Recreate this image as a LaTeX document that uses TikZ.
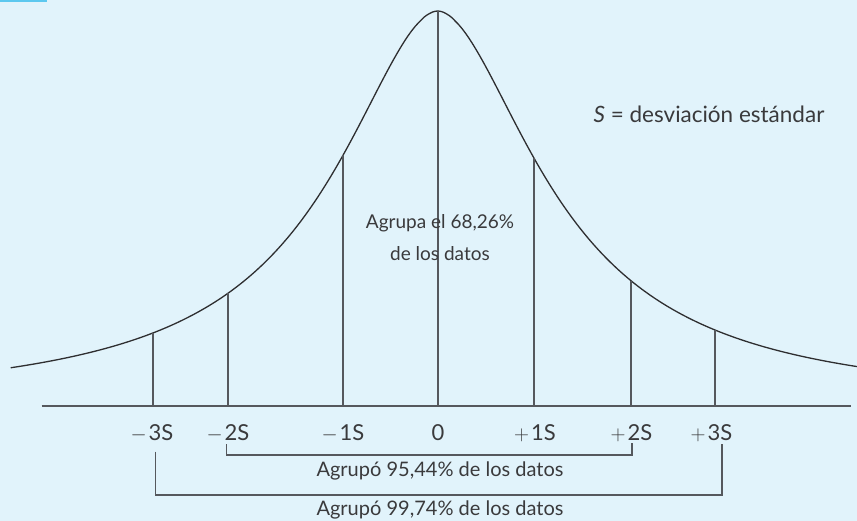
\documentclass[tikz,border=0pt]{standalone}
\usepackage{fontspec}
\setmainfont{Lato}
\definecolor{bgc}{HTML}{E1F3FB}
\definecolor{inkc}{HTML}{2E2E30}
\definecolor{vcol}{HTML}{55585D}
\definecolor{txtc}{HTML}{3A3A3C}
\definecolor{barc}{HTML}{5CC8EF}
\newcommand{\sgnm}{$-$\kern2pt}
\newcommand{\sgnp}{$+$\kern2pt}
\tikzset{
  curveline/.style={draw=inkc, line width=1.3pt},
  axisline/.style={draw=vcol, line width=1.4pt},
  vline/.style={draw=vcol, line width=1.7pt},
  brk/.style={draw=vcol, line width=1.3pt},
  lbl/.style={text=txtc, font=\fontsize{22}{26}\selectfont, inner sep=0pt},
  txt/.style={text=txtc, font=\fontsize{20}{32}\selectfont, inner sep=0pt, align=center}
}
\begin{document}
\begin{tikzpicture}[x=1pt,y=-1pt]
\fill[bgc] (0,0) rectangle (857,521);
\useasboundingbox (0,0) rectangle (857,521);
\fill[barc] (0,0) rectangle (47,1.6);
% curve
\draw[curveline] plot[domain=-427:419.3, samples=300, smooth]
  ({437.7+\x}, {406-395/(1+((abs(\x)+0.01)/127.7)^1.85)});
% axis
\coordinate (axl) at (41.6,406);
\coordinate (axr) at (851,406);
\draw[axisline] (axl) -- (axr);
% centre line
\coordinate (b0) at (437.7,406);
\coordinate (t0) at (437.7,11);
\draw[vline] (b0) -- (t0);
% other lines
\foreach \n/\xx in {m3/153, m2/227.7, m1/343.3, p1/534, p2/631, p3/715.3}{
  \pgfmathsetmacro\yt{406-395/(1+(abs(\xx-437.7)/127.7)^1.85)}
  \coordinate (b\n) at (\xx,406);
  \coordinate (t\n) at (\xx,\yt);
  \draw[vline] (b\n) -- (t\n);
}
% axis labels
\node[lbl, anchor=base] (lm3) at (152,440) {\sgnm 3S};
\node[lbl, anchor=base] (lm2) at (228,440) {\sgnm 2S};
\node[lbl, anchor=base] (lm1) at (343,440) {\sgnm 1S};
\node[lbl, anchor=base] (l0) at (438,440) {0};
\node[lbl, anchor=base] (lp1) at (535,440) {\sgnp 1S};
\node[lbl, anchor=base] (lp2) at (631.5,440) {\sgnp 2S};
\node[lbl, anchor=base] (lp3) at (711.5,440) {\sgnp 3S};
% brackets
\coordinate (i1) at (226.7,444);
\coordinate (i2) at (226.7,455);
\coordinate (i3) at (632,455);
\coordinate (i4) at (632,443.3);
\draw[brk] (i1) -- (i2) -- (i3) -- (i4);
\coordinate (o1) at (155.7,451.7);
\coordinate (o2) at (155.7,495);
\coordinate (o3) at (722,495);
\coordinate (o4) at (722,444.3);
\draw[brk] (o1) -- (o2) -- (o3) -- (o4);
% texts
\node[txt, anchor=base] (t95) at (440,476.7) {Agrupó 95,44\% de los datos};
\node[txt, anchor=base] (t99) at (440,515) {Agrupó 99,74\% de los datos};
\node[txt, anchor=base, font=\fontsize{19}{32}\selectfont] (t68) at (440,260.7) {Agrupa el 68,26\%\\de los datos};
\node[txt, anchor=base, font=\fontsize{22.5}{26}\selectfont] (leg) at (709,123) {\textit{S} = desviación estándar};
\end{tikzpicture}
\end{document}
